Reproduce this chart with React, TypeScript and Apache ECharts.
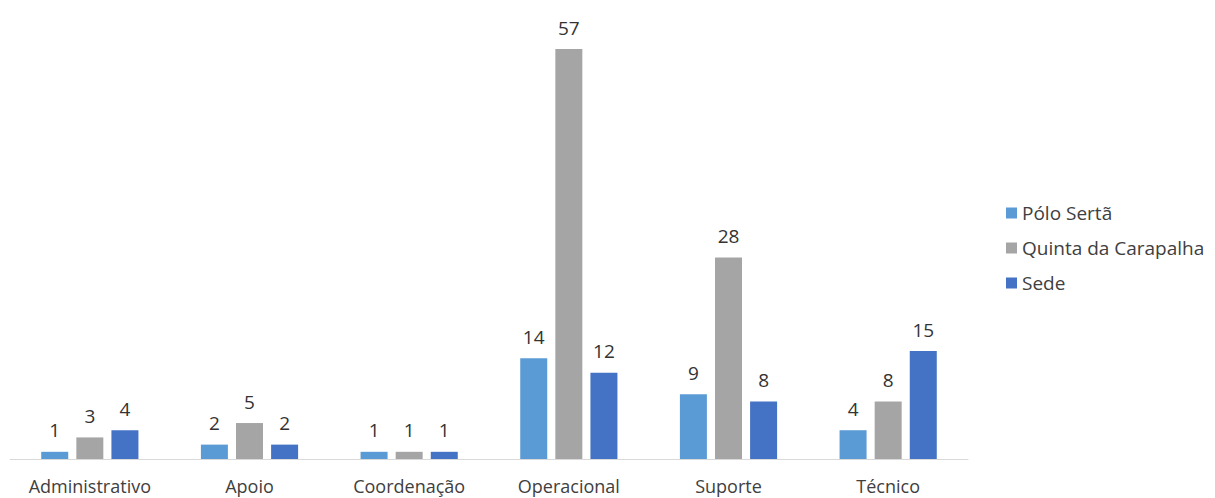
import React, { useEffect, useRef } from "react";
import * as echarts from "echarts";

const categories = ["Administrativo", "Apoio", "Coordenação", "Operacional", "Suporte", "Técnico"];
const poloSerta = [1, 2, 1, 14, 9, 4];
const quintaCarapalha = [3, 5, 1, 57, 28, 8];
const sede = [4, 2, 1, 12, 8, 15];
const seriesNames = ["Pólo Sertã", "Quinta da Carapalha", "Sede"];
const colors = ["#5B9BD5", "#A5A5A5", "#4472C4"];

const FONT = "'Open Sans', 'Noto Sans', sans-serif";

export default function App() {
  const ref = useRef<HTMLDivElement>(null);
  useEffect(() => {
    if (!ref.current) return;
    const chart = echarts.init(ref.current, undefined, { renderer: "svg" });
    const data = [poloSerta, quintaCarapalha, sede];
    chart.setOption({
      animation: false,
      textStyle: { fontFamily: FONT },
      grid: { left: 2, right: 239, top: 41, bottom: 39, containLabel: false, outerBoundsMode: "none" },
      legend: {
        orient: "vertical",
        left: 993,
        top: 190,
        itemWidth: 11,
        itemHeight: 11,
        itemGap: 15,
        icon: "rect",
        textStyle: { fontSize: 19, lineHeight: 20, color: "#404040", fontFamily: FONT },
        data: seriesNames,
      },
      xAxis: {
        type: "category",
        data: categories,
        axisLine: { lineStyle: { color: "#d9d9d9", width: 1 } },
        axisTick: { show: false },
        axisLabel: {
          interval: 0,
          fontSize: 18,
          lineHeight: 20,
          color: "#404040",
          margin: 17,
          fontFamily: FONT,
        },
      },
      yAxis: {
        type: "value",
        min: 0,
        max: 57,
        show: false,
        splitLine: { show: false },
      },
      series: seriesNames.map((name, i) => ({
        name,
        type: "bar",
        data: data[i],
        barWidth: 27,
        barGap: "30%",
        itemStyle: { color: colors[i] },
        label: {
          show: true,
          position: "top",
          distance: 12,
          fontSize: 19,
          color: "#333333",
          fontFamily: FONT,
        },
      })),
    });
    return () => chart.dispose();
  }, []);
  return <div ref={ref} style={{ width: 1199, height: 490 }} />;
}
